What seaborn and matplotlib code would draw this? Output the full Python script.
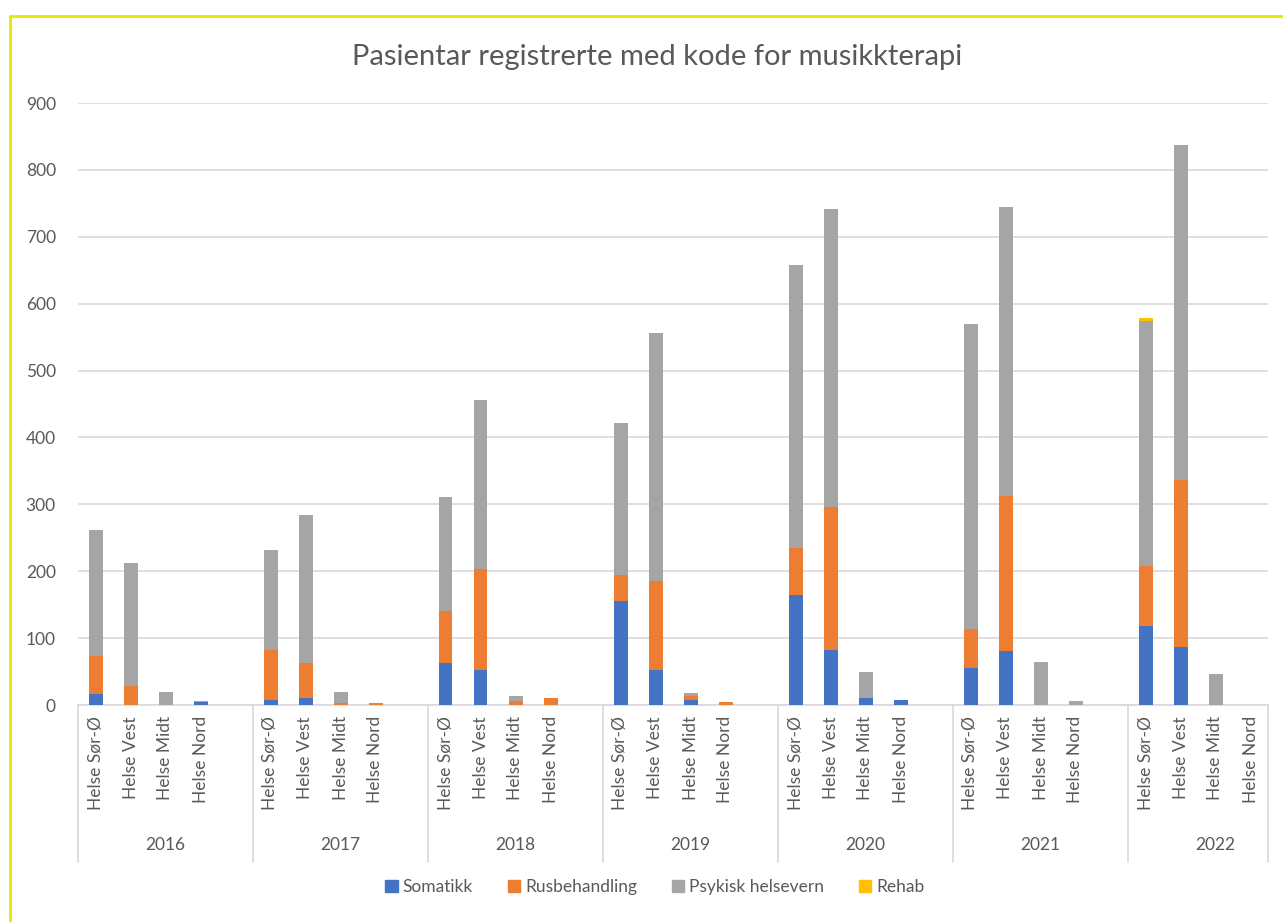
import matplotlib
matplotlib.use("Agg")
import matplotlib.pyplot as plt
import matplotlib.patches as mpatches
import matplotlib.lines as mlines
import numpy as np
import pandas as pd
import seaborn as sns

# data
years = ["2016", "2017", "2018", "2019", "2020", "2021", "2022"]
regions = ["Helse Sør-Ø", "Helse Vest", "Helse Midt", "Helse Nord"]
series = ["Somatikk", "Rusbehandling", "Psykisk helsevern", "Rehab"]

somatikk = [[16, 0, 0, 4], [8, 11, 0, 0], [63, 53, 0, 0], [156, 53, 8, 0],
            [164, 82, 11, 8], [56, 80, 0, 0], [118, 87, 0, 0]]
rusbehandling = [[58, 29, 0, 0], [74, 52, 3, 3], [77, 150, 6, 10], [39, 132, 5, 5],
                 [71, 214, 0, 0], [58, 233, 0, 0], [90, 250, 0, 0]]
psykisk = [[187, 184, 20, 2], [150, 221, 17, 0], [171, 253, 7, 0], [227, 371, 5, 0],
           [423, 445, 39, 0], [455, 432, 64, 6], [366, 500, 47, 0]]
rehab = [[0, 0, 0, 0], [0, 0, 0, 0], [0, 0, 0, 0], [0, 0, 0, 0],
         [0, 0, 0, 0], [0, 0, 0, 0], [5, 0, 0, 0]]

colors = ["#4472C4", "#ED7D31", "#A5A5A5", "#FFC000"]
text_col = "#595959"
grid_col = "#D9D9D9"

# long table, one row per bar; each year gets 5 slots (last one empty)
rows = []
for yi, yr in enumerate(years):
    for ri, reg in enumerate(regions):
        rows.append({"year": yr, "region": reg, "pos": yi * 5 + ri,
                     "Somatikk": somatikk[yi][ri], "Rusbehandling": rusbehandling[yi][ri],
                     "Psykisk helsevern": psykisk[yi][ri], "Rehab": rehab[yi][ri]})
df = pd.DataFrame(rows)
cum = df[series].cumsum(axis=1)

sns.set_style("white")
plt.rcParams["font.family"] = ["Lato", "DejaVu Sans"]

fig = plt.figure(figsize=(12.83, 9.22), dpi=100)
W, H = 1283, 922
ax = fig.add_axes([78 / W, 1 - 705 / H, (1268 - 78) / W, (705 - 103) / H])

# stacked bars by overplotting cumulative totals, tallest first
for s, c in reversed(list(zip(series, colors))):
    sns.barplot(x=df["pos"], y=cum[s], native_scale=True, color=c, width=0.4,
                saturation=1, ax=ax, errorbar=None, zorder=3, linewidth=0)

ax.set_xlim(-0.5, 33.5)
ax.set_ylim(0, 900)
ax.set_yticks(np.arange(0, 901, 100))
ax.yaxis.grid(True, color=grid_col, lw=1.2, zorder=0)
ax.set_axisbelow(True)
for sp in ["top", "right", "left"]:
    ax.spines[sp].set_visible(False)
ax.spines["bottom"].set_color(grid_col)
ax.spines["bottom"].set_linewidth(1.2)
ax.set_xlabel("")
ax.set_ylabel("")
ax.tick_params(axis="y", length=0, labelsize=12.5, labelcolor=text_col, pad=16)
ax.set_xticks(df["pos"])
ax.set_xticklabels(df["region"], rotation=90, fontsize=12.5, color=text_col, va="top")
ax.tick_params(axis="x", length=0, pad=8)

# year group labels and separators
trans = ax.get_xaxis_transform()
for yi, yr in enumerate(years):
    ax.text(yi * 5 + 2, -0.233, yr, transform=trans,
            ha="center", va="center", fontsize=12.5, color=text_col)
for xb in [yi * 5 - 0.5 for yi in range(7)] + [33.5]:
    ax.add_line(mlines.Line2D([xb, xb], [0, -0.26], transform=trans, color=grid_col,
                              lw=1.2, clip_on=False))

fig.text(657 / W, 1 - 57 / H, "Pasientar registrerte med kode for musikkterapi",
         fontsize=21, color=text_col, ha="center", va="center")

handles = [mpatches.Patch(color=c, label=s) for s, c in zip(series, colors)]
fig.legend(handles=handles, loc="center", bbox_to_anchor=(655 / W, 1 - 887 / H), ncol=4,
           frameon=False, fontsize=12.5, labelcolor=text_col, handlelength=0.7,
           handleheight=0.7, handletextpad=0.3, columnspacing=2.0)

# yellow frame at top and left
fig.add_artist(mlines.Line2D([10 / W, 1], [1 - 16 / H, 1 - 16 / H], color="#E8E800", lw=2))
fig.add_artist(mlines.Line2D([10 / W, 10 / W], [0, 1 - 16 / H], color="#E8E800", lw=2))

fig.savefig("out.png", dpi=100)
